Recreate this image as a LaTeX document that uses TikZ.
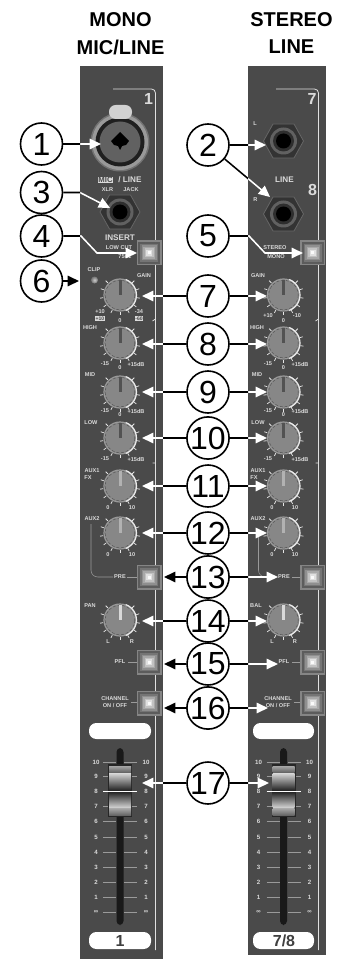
\documentclass[tikz,border=0pt]{standalone}
\usepackage{fontspec}
\setmainfont{Liberation Sans}
\usetikzlibrary{arrows.meta}
\definecolor{panel}{HTML}{4A4A4A}
\definecolor{ptxt}{HTML}{DADADA}
\definecolor{pline}{HTML}{9A9A9A}
\tikzset{
 x=.75pt,y=-.75pt,
 num/.style={circle,draw=black,fill=white,line width=1.2pt,minimum size=31.5pt,inner sep=0pt,font=\fontsize{24}{24}\selectfont},
 head/.style={font=\bfseries\fontsize{15}{15}\selectfont,inner sep=0pt,anchor=center},
 tiny/.style={text=ptxt,font=\bfseries\fontsize{4.2}{5}\selectfont,inner sep=0pt,anchor=center},
 small/.style={text=ptxt,font=\bfseries\fontsize{6.1}{7}\selectfont,inner sep=0pt,anchor=center},
 fadertxt/.style={text=ptxt,font=\bfseries\fontsize{4.6}{5}\selectfont,inner sep=0pt,anchor=center},
 big/.style={text=ptxt,font=\bfseries\fontsize{12}{12}\selectfont,inner sep=0pt,anchor=center},
 rev/.style={fill=ptxt,text=panel,font=\bfseries\fontsize{3.8}{4}\selectfont,inner sep=.4pt,anchor=center},
 panelline/.style={white!88!black,line width=.6pt,rounded corners=3pt},
 thin line/.style={pline,line width=.4pt},
 wline/.style={white,line width=1.15pt,-{Triangle[length=8.5pt,width=7.8pt]}},
 bline/.style={black,line width=1.15pt,-{Triangle[length=8.5pt,width=7.8pt]}},
}
% a connector: black on the paper, white on the panels
\newcommand\conn[1]{%
 \begin{scope}\clip (80,66) rectangle (163,959) (248,66) rectangle (326,955);\draw[wline] #1;\end{scope}%
 \begin{scope}\clip (0,0) rectangle (80,959) (163,0) rectangle (248,959) (326,0) rectangle (345,959);\draw[bline] #1;\end{scope}}
% knob: centre x,y ; pointer colour ; name
\newcommand\mKnob[4]{%
 \foreach \a in {-45,-18,...,225} \draw[white!90!black,line width=.55pt] (#1,#2)++(\a:17) -- ++(\a:3.2);
 \fill[black!47] (#1,#2) circle[radius=15.5];
 \draw[black!65,line width=.45pt,dash pattern=on 2.2pt off 1.4pt] (#1,#2) circle[radius=14.8];
 \draw[black!40,line width=.9pt] (#1,#2) circle[radius=16];
 \draw[white!92!black,line width=.9pt] ([shift={(70:16.5)}]#1,#2) arc[start angle=70,end angle=-70,radius=16.5];
 \fill[#3] (#1-1.5,#2-15.5) rectangle (#1+1.5,#2);
 \coordinate (#4) at (#1,#2);}
% button: centre x,y ; name
\newcommand\mBtn[3]{%
 \fill[black!48] (#1-12.5,#2-12.5) rectangle (#1+12.5,#2+12.5);
 \foreach \r/\c in {11/36,9/46,7.5/56,6/66,4.5/76,3/88,1.5/98}
   \fill[white!\c!black] (#1-\r,#2-\r) rectangle (#1+\r,#2+\r);
 \node[inner sep=0pt,minimum size=0pt] (#3) at (#1,#2) {};}
% hex jack
\newcommand\mJack[3]{%
 \fill[black!80,draw=black!60,line width=.6pt] (#1-20,#2) -- (#1-10.5,#2-17) -- (#1+10.5,#2-17) -- (#1+20,#2) -- (#1+10.5,#2+17) -- (#1-10.5,#2+17) -- cycle;
 \fill[black!62] (#1,#2) circle[radius=13.5];
 \fill[black!82] (#1,#2) circle[radius=10.5];
 \fill[black] (#1,#2) circle[radius=7.5];
 \coordinate (#3) at (#1,#2);}
% fader: slot x, left number x, right number x
\newcommand\mFader[6]{%
 \foreach \v/\yy in {10/762,9/776,8/791,7/806,6/821,5/837,4/852,3/867,2/882,1/897,∞/912}{%
  \draw[thin line] (#1-17,\yy) -- (#1-4,\yy) (#1+4,\yy) -- (#1+17,\yy);
  \node[fadertxt] at (#2,\yy) {\v};
  \node[fadertxt] at (#3,\yy) {\v};}
 \fill[black!90,rounded corners=3pt] (#1-3.5,748) rectangle (#1+3.5,925);
 \node[inner sep=0pt] (#4) at (#1,790) {};
 \fill[black!85] (#1-12,764) rectangle (#1+12,817);
 \shade[top color=black!35,bottom color=black!60] (#1-11,766) rectangle (#1+11,772);
 \shade[top color=black!15,bottom color=black!85] (#1-11,773) rectangle (#1+11,790);
 \shade[top color=black!85,bottom color=black!20] (#1-11,792) rectangle (#1+11,807);
 \shade[top color=black!35,bottom color=black!60] (#1-11,808.5) rectangle (#1+11,815);
 \draw[white,line width=.7pt] (#1-17,791) -- (#1+17,791);
 \fill[white,rounded corners=5.5pt] (#1-#5,723) rectangle (#1+#6,739);
 \fill[white,rounded corners=5.5pt] (#1-#5,932) rectangle (#1+#6,949);}
\begin{document}
\begin{tikzpicture}
\useasboundingbox (0,0) rectangle (345,959);
\fill[white] (0,0) rectangle (345,959);
% headings
\node[head] (hA) at (120.5,20) {MONO};
\node[head] (hB) at (120.5,47) {MIC/LINE};
\node[head] (hC) at (291.5,20) {STEREO};
\node[head] (hD) at (291.5,47) {LINE};
% panels
\fill[panel] (80,66) rectangle (163,959);
\fill[panel] (248,66) rectangle (326,955);
% frame lines with their ticks
\foreach \xa/\xb in {113/155.5,276/318.5}{
 \draw[panelline] (\xa,89) -- (\xb,89) -- (\xb,950);
 \draw[white!88!black,line width=.6pt] (\xb,319) -- (\xb-3,321) (\xb,463) -- (\xb-3,463);
}
\node[big] (ch1) at (148.5,99) {1};
\node[big] (ch7) at (312,99) {7};
\node[big] (ch8) at (312.5,190) {8};
% XLR
\fill[black!55] (120,142) circle[radius=29.5];
\fill[black!40] (120,142) circle[radius=28];
\fill[black!88] (120,142) circle[radius=24.5];
\fill[black!62] (120,142) circle[radius=20.5];
\fill[black] (120,132) -- (129,141) -- (126,145) -- (122,146) -- (120,150) -- (118,146) -- (114,145) -- (111,141) -- cycle;
\fill[white!82!black,rounded corners=5pt] (109,105) rectangle (132,119);
\coordinate (xlr) at (120,142);
\node[small,rev,font=\bfseries\fontsize{5.8}{6}\selectfont,inner sep=.3pt] (mic) at (105.5,180) {MIC};
\node[small] (sl) at (130,180) {/ LINE};
\node[tiny] (xl) at (107.5,189.5) {XLR};
\node[tiny] (ja) at (131,189.5) {JACK};
\mJack{120}{212}{jk3}
\mJack{283.5}{141}{jkL}
\mJack{283.5}{214}{jkR}
\node[small] (ins) at (120,238) {INSERT};
\node[tiny] (lc) at (119,248) {LOW CUT};
\node[tiny] (hz) at (125,257) {75Hz};
\node[small] (li) at (284.5,180) {LINE};
\node[tiny] (tL) at (255,124) {L};
\node[tiny] (tR) at (255.5,200) {R};
\node[tiny] (st) at (275,248) {STEREO};
\node[tiny] (mo) at (276,257) {MONO};
% LED
\shade[inner color=white!80!black,outer color=black!55] (94.5,280) circle[radius=3.5];
\node[tiny] (clip) at (94,270) {CLIP};
% knobs
\mKnob{120}{295}{black!68}{k1}
\mKnob{120}{343}{black!68}{k2}
\mKnob{120}{392}{black!68}{k3}
\mKnob{120}{438}{black!68}{k4}
\mKnob{120}{486}{black!30}{k5}
\mKnob{120}{533}{black!30}{k6}
\mKnob{120}{620}{white!85!black}{k7}
\mKnob{283.5}{295}{black!68}{r1}
\mKnob{283.5}{343}{black!68}{r2}
\mKnob{283.5}{392}{black!68}{r3}
\mKnob{283.5}{438}{black!68}{r4}
\mKnob{283.5}{486}{black!30}{r5}
\mKnob{283.5}{533}{black!30}{r6}
\mKnob{283.5}{620}{white!85!black}{r7}
% knob labels left
\node[tiny] (a1) at (144,276) {GAIN};
\node[tiny] (a2) at (100,312) {+10};
\node[rev] (a3) at (100,318.5) {+10};
\node[tiny] (a4) at (139,312) {-34};
\node[rev] (a5) at (139,318.5) {-60};
\node[tiny] (a6) at (120,321) {0};
\node[tiny] (a7) at (90,328) {HIGH};
\node[tiny] (a8) at (105,364) {-15};
\node[tiny] (a9) at (136,364) {+15dB};
\node[tiny] (a10) at (90,375) {MID};
\node[tiny] (a11) at (120,368) {0};
\node[tiny] (a12) at (105,411) {-15};
\node[tiny] (a13) at (136,411) {+15dB};
\node[tiny] (a14) at (91,423) {LOW};
\node[tiny] (a15) at (120,415) {0};
\node[tiny] (a16) at (105,459) {-15};
\node[tiny] (a17) at (136,459) {+15dB};
\node[tiny] (a18) at (92,471) {AUX1};
\node[tiny] (a19) at (88,478) {FX};
\node[tiny] (a20) at (108,508) {0};
\node[tiny] (a21) at (132,508) {10};
\node[tiny] (a22) at (92,519) {AUX2};
\node[tiny] (a23) at (108,555) {0};
\node[tiny] (a24) at (132,555) {10};
\node[tiny] (a25) at (90,606) {PAN};
\node[tiny] (a26) at (108,642) {L};
\node[tiny] (a27) at (132,642) {R};
% knob labels right
\node[tiny] (b1) at (258,276) {GAIN};
\node[tiny] (b2) at (268,316) {+10};
\node[tiny] (b4) at (297,316) {-10};
\node[tiny] (b6) at (283.5,321) {0};
\node[tiny] (b7) at (257,328) {HIGH};
\node[tiny] (b8) at (268,364) {-15};
\node[tiny] (b9) at (300,364) {+15dB};
\node[tiny] (b10) at (257,375) {MID};
\node[tiny] (b11) at (283.5,368) {0};
\node[tiny] (b12) at (268,411) {-15};
\node[tiny] (b13) at (300,411) {+15dB};
\node[tiny] (b14) at (258,423) {LOW};
\node[tiny] (b15) at (283.5,415) {0};
\node[tiny] (b16) at (268,459) {-15};
\node[tiny] (b17) at (300,459) {+15dB};
\node[tiny] (b18) at (258,471) {AUX1};
\node[tiny] (b19) at (254,478) {FX};
\node[tiny] (b20) at (272,508) {0};
\node[tiny] (b21) at (295,508) {10};
\node[tiny] (b22) at (258,519) {AUX2};
\node[tiny] (b23) at (272,555) {0};
\node[tiny] (b24) at (295,555) {10};
\node[tiny] (b25) at (256,606) {BAL};
\node[tiny] (b26) at (272,642) {L};
\node[tiny] (b27) at (295,642) {R};
% buttons
\mBtn{149}{252.5}{s1}
\mBtn{149}{577}{s2}
\mBtn{149}{662}{s3}
\mBtn{149}{703}{s4}
\mBtn{312.5}{252.5}{u1}
\mBtn{312.5}{577}{u2}
\mBtn{312.5}{662}{u3}
\mBtn{312.5}{703}{u4}
\node[tiny] (p1) at (120,577) {PRE};
\node[tiny] (p2) at (284,577) {PRE};
\node[tiny] (p3) at (120,662) {PFL};
\node[tiny] (p4) at (284,662) {PFL};
\node[tiny] (p5) at (115,699) {CHANNEL};
\node[tiny] (p6) at (115,706) {ON / OFF};
\node[tiny] (p7) at (278,699) {CHANNEL};
\node[tiny] (p8) at (278,706) {ON / OFF};
% hairlines
\draw[thin line,rounded corners=5pt] (91,524) -- (91,577) -- (113,577);
\draw[thin line,rounded corners=5pt] (258.5,530) -- (258.5,577) -- (276,577);
\draw[thin line] (127,577) -- (137,577) (292,577) -- (300,577)
  (128,662) -- (137,662) (292,662) -- (300,662)
  (131,702) -- (137,702) (294,702) -- (300,702);
% faders
\mFader{120}{96}{146}{f1}{31}{31}
\mFader{283.5}{258.5}{309.5}{f2}{30.5}{30.5}
\node[font=\bfseries\fontsize{12}{12}\selectfont,text=black!75,inner sep=0pt] (lab1) at (120,940.5) {1};
\node[font=\bfseries\fontsize{12}{12}\selectfont,text=black!75,inner sep=0pt] (lab2) at (284,940.5) {7/8};
% numbered circles
\foreach \n/\xx/\yy in {1/41.5/144,2/208/145,3/41.5/192.5,4/41.5/236,5/208/236,6/41.5/281,7/208/296,8/208/344,9/208/392,10/208/438,11/208/486,12/208/533,13/208/577,14/208/621,15/208/664,16/208/708,17/208/783}
  \node[num] (n\n) at (\xx,\yy) {\n};
% connector ends
\coordinate (e1) at (101,144);
\coordinate (e2) at (266,145);
\coordinate (e2b) at (270,197);
\coordinate (e3) at (110,208);
\coordinate (e4) at (137,253);
\coordinate (e5) at (303,253);
\coordinate (e6) at (79,281);
\foreach \n/\yy in {7/296,8/344,9/392,10/438,11/486,12/533,14/621}{
  \coordinate (L\n) at (142,\yy);
  \coordinate (R\n) at (267,\yy);}
\coordinate (L13) at (164,577); \coordinate (R13) at (278,577);
\coordinate (L15) at (164,664); \coordinate (R15) at (278,664);
\coordinate (L16) at (164,708); \coordinate (R16) at (268,708);
\coordinate (L17) at (142,783); \coordinate (R17) at (269,783);
\coordinate (c3) at (80,192.5);
\coordinate (c4a) at (81,236); \coordinate (c4b) at (97,253);
\coordinate (c5a) at (249,236); \coordinate (c5b) at (265,253);
% connectors
\conn{(n1) -- (e1)}
\conn{(n2) -- (e2)}
\conn{(n2) -- (e2b)}
\conn{(n3) -- (c3) -- (e3)}
\conn{(n4) -- (c4a) -- (c4b) -- (e4)}
\conn{(n5) -- (c5a) -- (c5b) -- (e5)}
\conn{(n6) -- (e6)}
\foreach \n in {7,8,9,10,11,12,13,14,15,16,17}{
  \conn{(n\n) -- (L\n)}
  \conn{(n\n) -- (R\n)}
}
\end{tikzpicture}
\end{document}
